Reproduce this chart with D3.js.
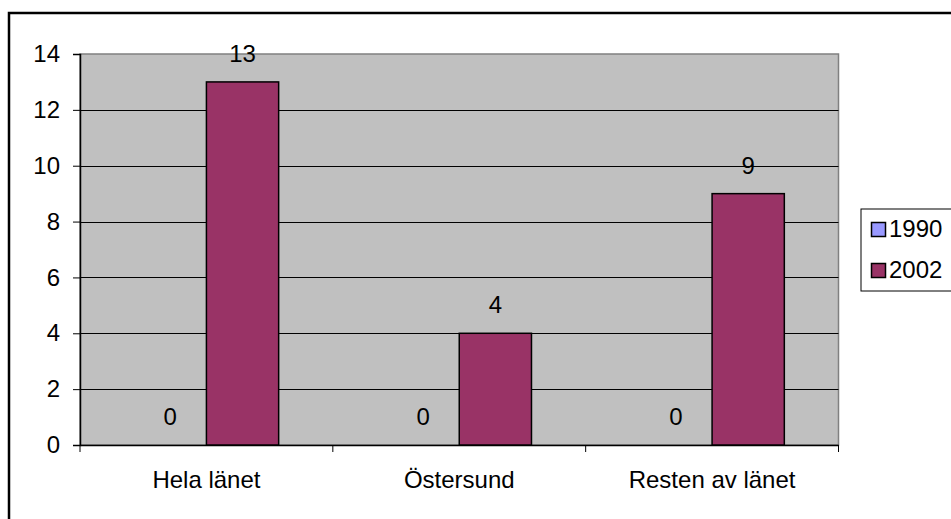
<!DOCTYPE html>
<html><head><meta charset="utf-8">
<script src="https://cdn.jsdelivr.net/npm/d3@7"></script>
<style>body{margin:0;background:#fff}svg{display:block}text{font-family:"Liberation Sans",Arial,sans-serif}</style>
</head><body>
<svg id="c" width="951" height="519"></svg>
<script>
const categories = ["Hela länet", "Östersund", "Resten av länet"];
const seriesNames = ["1990", "2002"];
const values1990 = [0, 0, 0];
const values2002 = [13, 4, 9];
const yTicks = [0, 2, 4, 6, 8, 10, 12, 14];
const colors = ["#9999FF", "#993366"];

const svg = d3.select("#c");
const fs = 24;
// outer frame
svg.append("rect").attr("x", 9).attr("y", 13).attr("width", 1000).attr("height", 1000)
  .attr("fill", "#fff").attr("stroke", "#000").attr("stroke-width", 2.5);

const L = 80, R = 838.5, T = 54, B = 445;
const y = d3.scaleLinear().domain([0, 14]).range([B, T]);
const x0 = d3.scaleBand().domain(categories).range([L, R]).paddingInner(0).paddingOuter(0);
const bw = x0.bandwidth();
const x1 = d3.scaleBand().domain(seriesNames).range([0, bw]).paddingInner(0).paddingOuter(0.75);

svg.append("rect").attr("x", L).attr("y", T).attr("width", R - L).attr("height", B - T)
  .attr("fill", "#C0C0C0").attr("stroke", "#808080").attr("stroke-width", 1.5);

// gridlines
svg.append("g").selectAll("line").data(yTicks.filter(d => d > 0 && d < 14)).join("line")
  .attr("x1", L).attr("x2", R).attr("y1", d => Math.round(y(d)) + 0.5).attr("y2", d => Math.round(y(d)) + 0.5)
  .attr("stroke", "#000").attr("stroke-width", 1);

// y axis
const yAxis = d3.axisLeft(y).tickValues(yTicks).tickSize(7).tickPadding(13);
const gy = svg.append("g").attr("transform", `translate(${L},0)`).call(yAxis);
gy.select(".domain").attr("stroke", "#000").attr("stroke-width", 1.5);
gy.selectAll(".tick line").attr("stroke", "#000");
gy.selectAll("text").attr("font-size", fs).attr("fill", "#000").attr("font-family", '"Liberation Sans",Arial,sans-serif');

// x axis
const xAxis = d3.axisBottom(x0).tickSize(0).tickPadding(0);
const gx = svg.append("g").attr("transform", `translate(0,${B})`).call(xAxis);
gx.select(".domain").attr("stroke", "#000").attr("stroke-width", 1.5);
gx.selectAll("text").attr("font-size", fs).attr("fill", "#000").attr("dy", null).attr("y", 43)
  .attr("font-family", '"Liberation Sans",Arial,sans-serif');
// category separator ticks
const sep = categories.map((c) => x0(c)).concat([R]);
svg.append("g").selectAll("line").data(sep).join("line")
  .attr("x1", d => d).attr("x2", d => d).attr("y1", B).attr("y2", B + 7)
  .attr("stroke", "#000").attr("stroke-width", 1);

// bars
const data = categories.map((c, i) => ({c, vals: [values1990[i], values2002[i]]}));
const groups = svg.append("g").selectAll("g").data(data).join("g")
  .attr("transform", d => `translate(${x0(d.c)},0)`);
groups.selectAll("rect").data(d => d.vals.map((v, j) => ({v, s: seriesNames[j], j}))).join("rect")
  .filter(d => d.v > 0)
  .attr("x", d => x1(d.s)).attr("width", x1.bandwidth())
  .attr("y", d => y(d.v)).attr("height", d => B - y(d.v))
  .attr("fill", d => colors[d.j]).attr("stroke", "#000").attr("stroke-width", 1.5);
groups.selectAll("text.lab").data(d => d.vals.map((v, j) => ({v, s: seriesNames[j]}))).join("text")
  .attr("class", "lab")
  .attr("x", d => x1(d.s) + x1.bandwidth() / 2).attr("y", d => y(d.v) - 20)
  .attr("text-anchor", "middle").attr("font-size", fs).attr("fill", "#000")
  .text(d => d.v);

// legend
const lg = svg.append("g");
lg.append("rect").attr("x", 861).attr("y", 209).attr("width", 120).attr("height", 82)
  .attr("fill", "#fff").attr("stroke", "#000").attr("stroke-width", 1);
seriesNames.forEach((s, i) => {
  const yy = 222 + i * 41;
  lg.append("rect").attr("x", 871.5).attr("y", yy + 0.5).attr("width", 14).attr("height", 14)
    .attr("fill", colors[i]).attr("stroke", "#000").attr("stroke-width", 1.5);
  lg.append("text").attr("x", 889).attr("y", yy + 15).attr("font-size", fs).attr("fill", "#000").text(s);
});
</script>
</body></html>
